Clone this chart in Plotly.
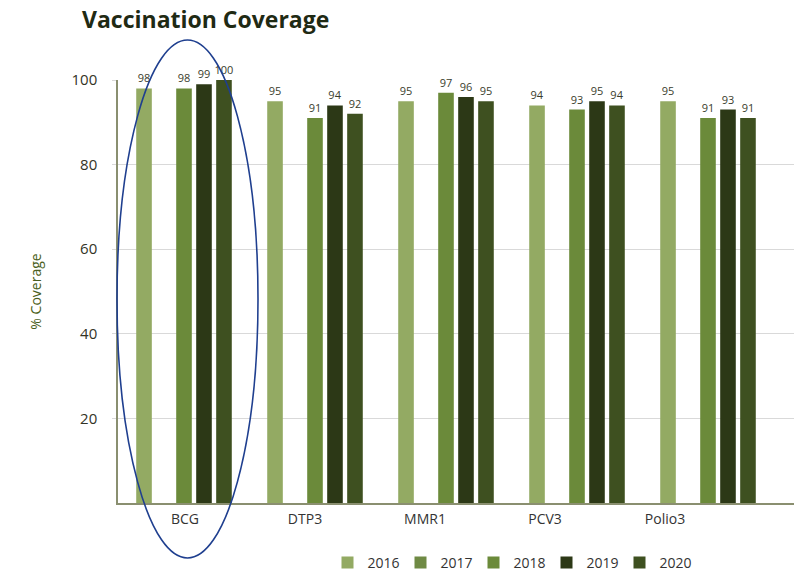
import plotly.graph_objects as go

# Vaccine coverage (%) by antigen and year
vaccines = ["BCG", "DTP3", "MMR1", "PCV3", "Polio3"]
years = ["2016", "2017", "2018", "2019", "2020"]
cov_2016 = [98, 95, 95, 94, 95]
cov_2017 = [None, None, None, None, None]
cov_2018 = [98, 91, 97, 93, 91]
cov_2019 = [99, 94, 96, 95, 93]
cov_2020 = [100, 92, 95, 94, 91]
y_ticks = [20, 40, 60, 80, 100]

series = [cov_2016, cov_2017, cov_2018, cov_2019, cov_2020]
colors = ["#93aa63", "#6f8a44", "#6b8a3a", "#2c3816", "#3e5020"]

W, H = 794, 579
L, R, T, B = 118, 0, 80, 76
plot_w = W - L - R

# bar groups are spaced wider than the category captions underneath
bar_unit = 131.0
bar_left = -(184 - L) / bar_unit
lab_unit = 120.0
lab_left = -(185 - L) / lab_unit

fig = go.Figure()
for yr, vals, col in zip(years, series, colors):
    fig.add_trace(go.Bar(
        x=vaccines, y=vals, name=yr,
        marker=dict(color=col, line=dict(width=0)),
        text=[("" if v is None else str(v)) for v in vals],
        textposition="outside",
        constraintext="none",
        textfont=dict(size=11, color="#3a3d2c", family="Open Sans"),
        cliponaxis=False,
    ))

# caption axis: carries the category names
fig.add_trace(go.Scatter(
    x=list(range(len(vaccines))), y=[0] * len(vaccines),
    xaxis="x2", mode="markers", marker=dict(opacity=0),
    showlegend=False, hoverinfo="skip",
))


def px_to_paper_x(px):
    return (px - L) / plot_w


def px_to_paper_y(py):
    return (H - B - py) / (H - T - B)


fig.update_layout(
    width=W, height=H,
    margin=dict(l=L, r=R, t=T, b=B, pad=0),
    paper_bgcolor="#ffffff",
    plot_bgcolor="#ffffff",
    barmode="group",
    bargap=0.237,
    bargroupgap=0.22,
    font=dict(family="Open Sans", color="#333333"),
    title=dict(
        text="<b>Vaccination Coverage</b>",
        x=82 / W, xanchor="left", y=1 - 20 / H, yanchor="middle",
        font=dict(size=23, color="#1f2a14", family="Open Sans"),
    ),
    showlegend=True,
    legend=dict(
        orientation="h",
        x=px_to_paper_x(510), xanchor="center",
        y=px_to_paper_y(563), yanchor="middle",
        font=dict(size=14, color="#333333"),
        itemwidth=30,
        entrywidth=28, entrywidthmode="pixels",
        traceorder="normal",
    ),
    xaxis=dict(
        range=[bar_left, bar_left + plot_w / bar_unit],
        showgrid=False,
        showline=True, linecolor="#8a8f70", linewidth=1.5,
        ticks="", showticklabels=False,
    ),
    xaxis2=dict(
        overlaying="x", side="bottom", anchor="y",
        range=[lab_left, lab_left + plot_w / lab_unit],
        tickmode="array",
        tickvals=list(range(len(vaccines))), ticktext=vaccines,
        showgrid=False, showline=False, zeroline=False, ticks="",
        tickfont=dict(size=14, color="#333333"),
        ticklabelstandoff=6,
    ),
    yaxis=dict(
        range=[0, 100],
        tickvals=y_ticks,
        showgrid=True, gridcolor="#d9d9d9", gridwidth=1,
        showline=True, linecolor="#8a8f70", linewidth=1.5,
        ticks="outside", ticklen=4, tickcolor="#d9d9d9",
        tickfont=dict(size=15, color="#333326"),
        ticklabelstandoff=12,
        zeroline=False,
        title=dict(text="% Coverage", font=dict(size=14, color="#4a5e20"), standoff=27),
    ),
    shapes=[dict(
        type="circle", xref="paper", yref="paper",
        x0=px_to_paper_x(117), x1=px_to_paper_x(258),
        y0=px_to_paper_y(558), y1=px_to_paper_y(40),
        line=dict(color="#1f3f8f", width=1.6),
        fillcolor="rgba(0,0,0,0)",
        layer="above",
    )],
)

fig.write_html("out.html")
